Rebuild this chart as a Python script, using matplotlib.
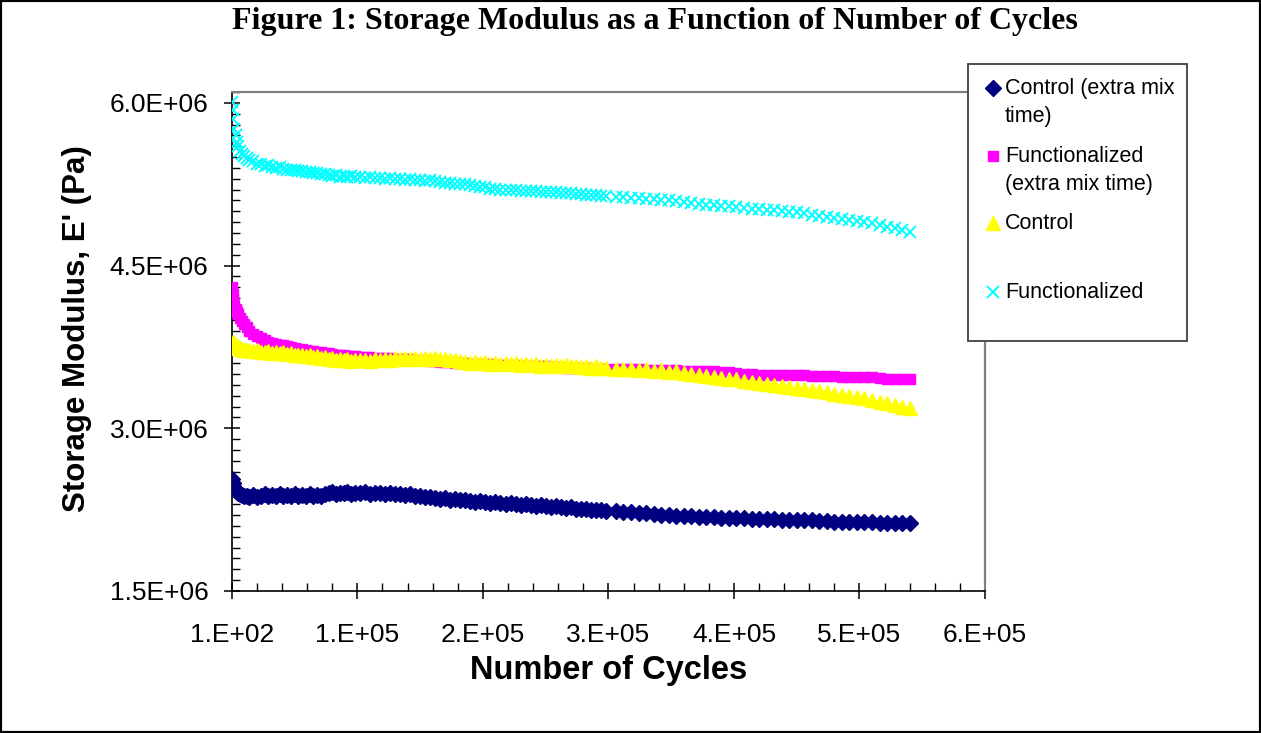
import numpy as np
import matplotlib
matplotlib.use("Agg")
import matplotlib.pyplot as plt
from matplotlib.ticker import FixedLocator, MultipleLocator
from matplotlib.lines import Line2D
from matplotlib.patches import Rectangle

# ---------------- data ----------------
cycles_k = [0.1, 0.5, 1, 2, 3, 4, 5, 6.5, 8, 10, 12,
            14, 17, 20, 23, 26, 29, 32, 35, 38, 41, 44, 47, 50, 53, 56, 59, 62, 65, 68,
            71, 74, 77, 80, 83, 86, 89, 92, 95, 98,
            102, 106, 110, 114, 118, 122, 126, 130, 134, 138,
            142, 146, 150, 154, 158, 162, 166, 170, 174, 178,
            182, 186, 190, 194, 198, 202, 206, 210, 214, 218,
            222, 226, 230, 234, 238, 242, 246, 250, 254, 258,
            262, 266, 270, 274, 278, 282, 286, 290, 294, 298,
            306, 312, 318, 324, 330, 336, 342, 348, 354, 360,
            366, 372, 378, 384, 390, 396, 402, 408, 414, 420,
            426, 432, 438, 444, 450, 456, 462, 468, 474, 480,
            486, 492, 498, 504, 510, 516, 522, 528, 534, 540]

# storage modulus values in MPa (x 1e6 Pa)
control_extra = [2.53, 2.50, 2.47, 2.44, 2.42, 2.41, 2.40, 2.39, 2.385, 2.38, 2.375,
                 2.37, 2.385, 2.37, 2.38, 2.39, 2.375, 2.385, 2.38, 2.39, 2.375, 2.385, 2.38, 2.39, 2.38, 2.385, 2.375, 2.39, 2.38, 2.385,
                 2.38, 2.39, 2.40, 2.41, 2.395, 2.405, 2.40, 2.41, 2.395, 2.405,
                 2.40, 2.41, 2.395, 2.405, 2.40, 2.395, 2.40, 2.39, 2.395, 2.385,
                 2.39, 2.38, 2.375, 2.37, 2.365, 2.36, 2.35, 2.355, 2.34, 2.345,
                 2.335, 2.34, 2.33, 2.325, 2.33, 2.32, 2.315, 2.32, 2.31, 2.305,
                 2.31, 2.30, 2.295, 2.30, 2.29, 2.285, 2.29, 2.28, 2.275, 2.28,
                 2.27, 2.265, 2.27, 2.26, 2.255, 2.26, 2.25, 2.245, 2.25, 2.24,
                 2.235, 2.23, 2.225, 2.22, 2.215, 2.21, 2.205, 2.20, 2.195, 2.19,
                 2.19, 2.185, 2.18, 2.18, 2.175, 2.175, 2.17, 2.17, 2.165, 2.165,
                 2.16, 2.16, 2.155, 2.155, 2.15, 2.15, 2.15, 2.145, 2.145, 2.14,
                 2.14, 2.14, 2.135, 2.135, 2.135, 2.13, 2.13, 2.13, 2.13, 2.13]

functionalized_extra = [4.30, 4.24, 4.19, 4.14, 4.10, 4.07, 4.05, 4.02, 3.99, 3.96, 3.93,
                        3.90, 3.87, 3.85, 3.83, 3.81, 3.80, 3.79, 3.78, 3.77, 3.765, 3.755, 3.75, 3.74, 3.735, 3.73, 3.72, 3.715, 3.71, 3.705,
                        3.70, 3.695, 3.69, 3.685, 3.68, 3.68, 3.675, 3.67, 3.67, 3.665,
                        3.66, 3.655, 3.655, 3.65, 3.65, 3.645, 3.645, 3.64, 3.64, 3.635,
                        3.635, 3.63, 3.63, 3.625, 3.62, 3.62, 3.615, 3.61, 3.61, 3.605,
                        3.60, 3.60, 3.595, 3.595, 3.59, 3.59, 3.59, 3.585, 3.585, 3.58,
                        3.58, 3.58, 3.575, 3.575, 3.575, 3.57, 3.57, 3.57, 3.565, 3.565,
                        3.565, 3.56, 3.56, 3.56, 3.555, 3.555, 3.55, 3.55, 3.55, 3.545,
                        3.55, 3.55, 3.545, 3.545, 3.54, 3.54, 3.54, 3.535, 3.535, 3.53,
                        3.53, 3.53, 3.525, 3.525, 3.52, 3.515, 3.51, 3.505, 3.50, 3.495,
                        3.49, 3.49, 3.49, 3.49, 3.49, 3.49, 3.485, 3.485, 3.485, 3.48,
                        3.47, 3.47, 3.47, 3.47, 3.47, 3.465, 3.455, 3.455, 3.455, 3.455]

control = [3.74, 3.78, 3.80, 3.79, 3.77, 3.76, 3.75, 3.74, 3.73, 3.72, 3.72,
           3.72, 3.71, 3.72, 3.705, 3.70, 3.71, 3.695, 3.70, 3.69, 3.70, 3.685, 3.69, 3.68, 3.675, 3.68, 3.665, 3.675, 3.66, 3.665,
           3.65, 3.655, 3.64, 3.645, 3.63, 3.64, 3.625, 3.635, 3.62, 3.63,
           3.625, 3.63, 3.62, 3.635, 3.625, 3.64, 3.63, 3.645, 3.635, 3.65,
           3.64, 3.65, 3.64, 3.645, 3.635, 3.645, 3.635, 3.64, 3.625, 3.63,
           3.62, 3.615, 3.60, 3.61, 3.60, 3.61, 3.595, 3.605, 3.595, 3.60,
           3.59, 3.60, 3.585, 3.595, 3.58, 3.59, 3.575, 3.585, 3.575, 3.585,
           3.57, 3.58, 3.57, 3.575, 3.565, 3.57, 3.56, 3.57, 3.555, 3.56,
           3.55, 3.545, 3.55, 3.54, 3.545, 3.53, 3.535, 3.52, 3.525, 3.51,
           3.50, 3.49, 3.48, 3.47, 3.465, 3.455, 3.45, 3.44, 3.43, 3.42,
           3.41, 3.40, 3.39, 3.38, 3.37, 3.36, 3.35, 3.345, 3.335, 3.32,
           3.31, 3.30, 3.29, 3.275, 3.26, 3.245, 3.23, 3.215, 3.20, 3.19]

functionalized = [6.01, 5.93, 5.85, 5.76, 5.70, 5.64, 5.60, 5.56, 5.53, 5.51, 5.49,
                  5.47, 5.46, 5.44, 5.44, 5.42, 5.425, 5.41, 5.40, 5.405, 5.39, 5.385, 5.38, 5.38, 5.37, 5.37, 5.36, 5.365, 5.35, 5.355,
                  5.34, 5.345, 5.335, 5.33, 5.335, 5.32, 5.33, 5.32, 5.325, 5.315,
                  5.32, 5.31, 5.315, 5.305, 5.31, 5.30, 5.305, 5.295, 5.30, 5.29,
                  5.295, 5.285, 5.29, 5.28, 5.285, 5.275, 5.27, 5.265, 5.26, 5.255,
                  5.25, 5.25, 5.24, 5.235, 5.225, 5.22, 5.21, 5.205, 5.20, 5.20,
                  5.195, 5.195, 5.19, 5.19, 5.185, 5.185, 5.18, 5.18, 5.175, 5.175,
                  5.17, 5.17, 5.165, 5.16, 5.16, 5.155, 5.15, 5.15, 5.145, 5.14,
                  5.135, 5.13, 5.125, 5.12, 5.115, 5.11, 5.105, 5.10, 5.095, 5.09,
                  5.08, 5.07, 5.06, 5.055, 5.05, 5.045, 5.04, 5.03, 5.025, 5.02,
                  5.015, 5.01, 5.00, 4.995, 4.99, 4.98, 4.97, 4.96, 4.95, 4.94,
                  4.93, 4.92, 4.91, 4.90, 4.89, 4.875, 4.86, 4.845, 4.83, 4.81]

series_names = ["Control (extra mix\ntime)", "Functionalized\n(extra mix time)", "Control", "Functionalized"]
series_colors = ["#000080", "#FF00FF", "#FFFF00", "#00FFFF"]

x_ticks = [100, 1e5, 2e5, 3e5, 4e5, 5e5, 6e5]
x_tick_labels = ["1.E+02", "1.E+05", "2.E+05", "3.E+05", "4.E+05", "5.E+05", "6.E+05"]
y_ticks = [1.5e6, 3.0e6, 4.5e6, 6.0e6]
y_tick_labels = ["1.5E+06", "3.0E+06", "4.5E+06", "6.0E+06"]

# ---------------- figure ----------------
W, H = 1261, 733
fig = plt.figure(figsize=(W / 100, H / 100), dpi=100)
fig.patch.set_facecolor("white")
ax = fig.add_axes([232 / W, 1 - 591 / H, (985 - 232) / W, (591 - 92) / H])

marker_kw = [dict(marker="D", ms=8.0), dict(marker="s", ms=7.5),
             dict(marker="^", ms=9.5), dict(marker="x", ms=8.0, mew=1.4)]

cyc = np.array(cycles_k) * 1000.0
all_series = [control_extra, functionalized_extra, control, functionalized]
for i, (vals, col, mk) in enumerate(zip(all_series, series_colors, marker_kw)):
    ax.plot(cyc, np.array(vals) * 1e6, linestyle="none", color=col, mec=col,
            zorder=3 + i, **mk)

ax.set_xlim(100, 6e5)
ax.set_ylim(1.5e6, 6.1e6)
ax.xaxis.set_major_locator(FixedLocator(x_ticks))
ax.set_xticklabels(x_tick_labels)
ax.xaxis.set_minor_locator(MultipleLocator(2e4))
ax.yaxis.set_major_locator(FixedLocator(y_ticks))
ax.set_yticklabels(y_tick_labels)
ax.yaxis.set_minor_locator(MultipleLocator(1e5))

for lab in ax.get_xticklabels() + ax.get_yticklabels():
    lab.set_fontfamily("Liberation Sans")
    lab.set_fontsize(19)

ax.tick_params(axis="both", which="major", direction="inout", length=12, width=1.1, color="black")
ax.tick_params(axis="both", which="minor", direction="in", length=5.8, width=1.0, color="black")
ax.tick_params(axis="y", which="major", pad=11)
ax.tick_params(axis="x", which="major", pad=17)
ax.tick_params(top=False, right=False, which="both")

for s in ["left", "bottom"]:
    ax.spines[s].set_color("black")
    ax.spines[s].set_linewidth(1.2)
for s in ["top", "right"]:
    ax.spines[s].set_color("#808080")
    ax.spines[s].set_linewidth(1.6)

ax.set_xlabel("Number of Cycles", fontfamily="Liberation Sans", fontweight="bold", fontsize=23.5, labelpad=6)
ax.set_ylabel("Storage Modulus, E' (Pa)", fontfamily="Liberation Sans", fontweight="bold", fontsize=22.5, va="center")
ax.yaxis.set_label_coords((77 - 232) / 753, (591 - 329) / 499)

fig.text(655 / W, 1 - 22 / H, "Figure 1: Storage Modulus as a Function of Number of Cycles",
         ha="center", va="center", fontfamily="Liberation Serif", fontweight="bold", fontsize=23)

# ---------------- legend (manual box) ----------------
lx0, lx1, ly0, ly1 = 968, 1187, 64, 341
fig.add_artist(Rectangle((lx0 / W, 1 - ly1 / H), (lx1 - lx0) / W, (ly1 - ly0) / H,
                         transform=fig.transFigure, facecolor="white", edgecolor="#404040",
                         linewidth=1.3, zorder=10))
leg_rows = [88, 156, 223, 292]
for name, col, mk, row in zip(series_names, series_colors, marker_kw, leg_rows):
    fig.add_artist(Line2D([993 / W], [1 - row / H], transform=fig.transFigure, linestyle="none",
                          color=col, mec=col, zorder=11, **mk))
    fig.text(1005 / W, 1 - (row - 10) / H, name, ha="left", va="top", fontfamily="Liberation Sans",
             fontsize=15.5, linespacing=1.45, zorder=12)

# figure border
fig.add_artist(Rectangle((0, 0), 1, 1, transform=fig.transFigure, facecolor="none",
                         edgecolor="black", linewidth=3, zorder=20))

fig.savefig("out.png", dpi=100)
